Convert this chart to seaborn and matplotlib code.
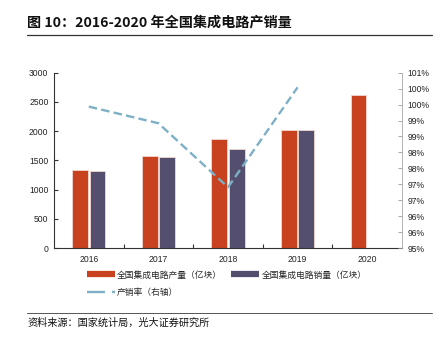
import numpy as np
import pandas as pd
import matplotlib
matplotlib.use("Agg")
import matplotlib.pyplot as plt
from matplotlib.lines import Line2D
from matplotlib.ticker import PercentFormatter, FixedLocator
import seaborn as sns

years = ["2016", "2017", "2018", "2019", "2020"]
production = [1330, 1570, 1860, 2020, 2625]
sales = [1322, 1551, 1688, 2013, np.nan]
rate_years = ["2016", "2017", "2018", "2019"]
rate = [0.9984, 0.9927, 0.9708, 1.0050]

prod_label = "全国集成电路产量（亿块）"
sales_label = "全国集成电路销量（亿块）"
rate_label = "产销率（右轴）"
title = "图 10：2016-2020 年全国集成电路产销量"
source = "资料来源：国家统计局，光大证券研究所"

RED = "#C8421F"
PURPLE = "#554F6F"
BLUE = "#7DB0C6"

sns.set_theme(style="white")
plt.rcParams["font.family"] = ["Liberation Sans", "Noto Sans CJK SC", "DejaVu Sans"]

df = pd.DataFrame({
    "year": years * 2,
    "series": [prod_label] * len(years) + [sales_label] * len(years),
    "value": production + sales,
})

fig = plt.figure(figsize=(4.47, 3.38), dpi=100)
ax = fig.add_axes([54 / 447, 1 - 248 / 338, 348 / 447, 175.3 / 338])

sns.barplot(data=df, x="year", y="value", hue="series", order=years,
            hue_order=[prod_label, sales_label],
            palette={prod_label: RED, sales_label: PURPLE},
            width=0.5, gap=0.1, saturation=1, edgecolor="#F2D8D0", linewidth=0.6,
            legend=False, ax=ax)
ax.set_xlim(-0.5, 4.5)
ax.set_ylim(0, 3000)
ax.set_yticks(np.arange(0, 3001, 500))
ax.set_xlabel("")
ax.set_ylabel("")
ax.tick_params(axis="y", direction="in", length=3, width=0.8, color="#333333",
               labelsize=6.2, pad=4, left=True, labelcolor="#222222")
ax.tick_params(axis="x", which="major", length=0, labelsize=6.2, pad=5, labelcolor="#222222")
ax.xaxis.set_minor_locator(FixedLocator([0.5, 1.5, 2.5, 3.5]))
ax.tick_params(axis="x", which="minor", direction="in", length=3, width=0.8,
               color="#333333", bottom=True)
for s in ["top", "right"]:
    ax.spines[s].set_visible(False)
for s in ["left", "bottom"]:
    ax.spines[s].set_color("#333333")
    ax.spines[s].set_linewidth(0.8)

ax2 = ax.twinx()
rate_pos = [years.index(y) for y in rate_years]
sns.lineplot(x=rate_pos, y=rate, ax=ax2, color=BLUE, linewidth=1.7,
             linestyle=(0, (3.6, 1.8)), sort=False)
ax2.set_xlim(-0.5, 4.5)
ax2.set_ylim(0.95, 1.01)
ax2.yaxis.set_major_locator(FixedLocator(np.linspace(0.95, 1.01, 12)))
ax2.yaxis.set_major_formatter(PercentFormatter(1, decimals=0))
ax2.tick_params(axis="y", direction="in", length=3, width=0.6, color="#999999",
                labelsize=6.2, pad=4, right=True, labelcolor="#222222")
for s in ["top", "left", "bottom"]:
    ax2.spines[s].set_visible(False)
ax2.spines["right"].set_color("#A6A6A6")
ax2.spines["right"].set_linewidth(0.6)
ax2.set_ylabel("")

handles = [
    Line2D([], [], color=RED, lw=4.5, solid_capstyle="butt"),
    Line2D([], [], color=BLUE, lw=1.7, linestyle=(0, (7.6, 3.0))),
    Line2D([], [], color=PURPLE, lw=4.5, solid_capstyle="butt"),
]
labels = [prod_label, rate_label, sales_label]
fig.legend(handles, labels, loc="upper left", bbox_to_anchor=(83 / 447, 1 - 267 / 338),
           ncol=2, frameon=False, fontsize=6.3, handlelength=3.2, handletextpad=0.3,
           columnspacing=1.0, labelspacing=0.95, borderaxespad=0)

fig.text(27 / 447, 1 - 22.5 / 338, title, fontsize=10.2, fontweight="bold",
         family=["Noto Sans CJK SC"], va="center", ha="left", color="#111111")
fig.add_artist(Line2D([27 / 447, 432 / 447], [1 - 34.5 / 338] * 2,
                      transform=fig.transFigure, color="#333333", lw=0.9))
fig.add_artist(Line2D([27 / 447, 432 / 447], [1 - 313 / 338] * 2,
                      transform=fig.transFigure, color="#555555", lw=0.7))
fig.text(27 / 447, 1 - 323 / 338, source, fontsize=7.3,
         family=["Noto Sans CJK SC"], va="center", ha="left", color="#111111")

fig.savefig("out.png", dpi=100)
